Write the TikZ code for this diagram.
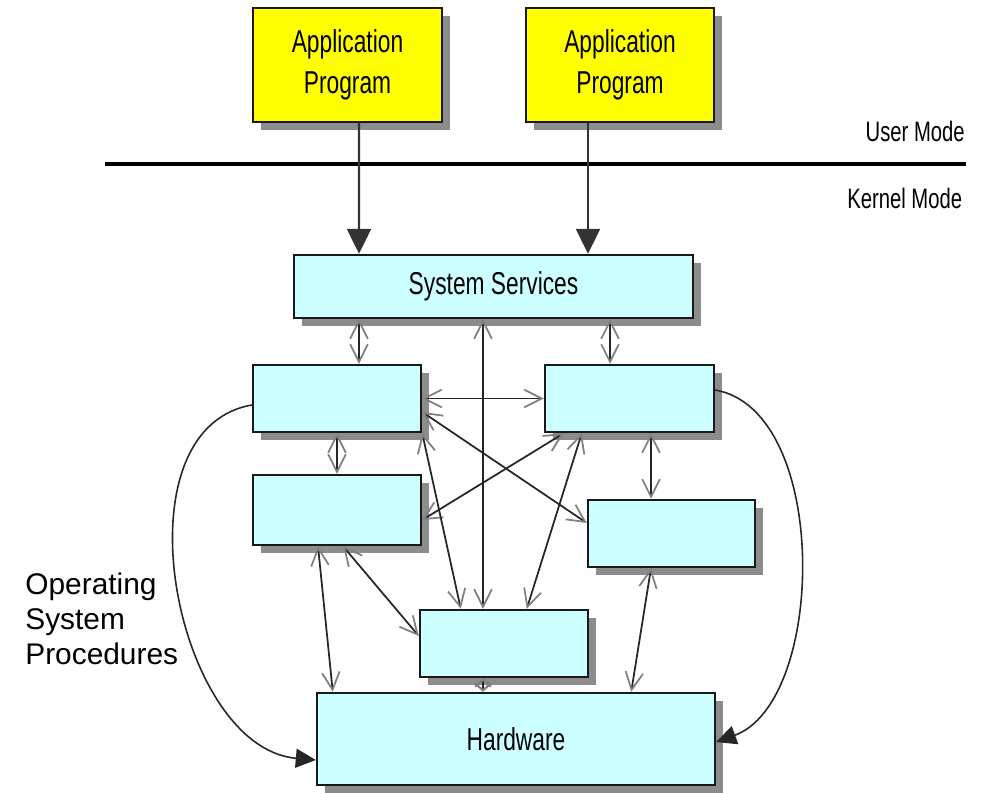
\documentclass[tikz,border=0pt]{standalone}
\usepackage{fontspec}
\usepackage{xcolor}
\usepackage{tikz}
\usetikzlibrary{arrows.meta, shadows, positioning, calc}
\setmainfont{Liberation Sans}
\newfontfamily\stretto[FakeStretch=0.72]{Liberation Sans}
\definecolor{giallo}{HTML}{FFFF00}
\definecolor{ciano}{HTML}{CCFFFF}

\begin{document}
\begin{tikzpicture}[
    scatola/.style={draw=black!90, line width=1.4pt, inner sep=0pt, align=center,
        font=\stretto\fontsize{18}{23}\selectfont,
        drop shadow={shadow xshift=0.16cm, shadow yshift=-0.16cm, fill=black!45, opacity=1}},
    freccia/.style={<->, >={Straight Barb[length=10pt,width=10pt,color=black!50]}, line width=1pt, black!85},
    corta/.style={<->, >={Straight Barb[length=4pt,width=9pt,color=black!50]}, line width=1.2pt, black!85},
    chiamata/.style={-{Triangle[length=0.5cm,width=0.48cm]}, line width=1.4pt, black!80},
    curva/.style={-{Triangle[length=0.4cm,width=0.38cm]}, line width=0.9pt, black!85}
]
\useasboundingbox (0,0) rectangle (19.64,-15.86);

\node[scatola, fill=giallo, minimum width=3.78cm, minimum height=2.28cm] (App1) at (6.95,-1.30) {Application\\Program};
\node[scatola, fill=giallo, minimum width=3.76cm, minimum height=2.28cm] (App2) at (12.40,-1.30) {Application\\Program};

\coordinate (LineaSx) at (2.1,-3.28);
\coordinate (LineaDx) at (19.32,-3.28);
\draw[line width=2.2pt] (LineaSx) -- (LineaDx);
\node[anchor=east, inner sep=0pt, font=\stretto\fontsize{16}{18}\selectfont] (UserMode) at (19.3,-2.62) {User Mode};
\node[anchor=east, inner sep=0pt, font=\stretto\fontsize{16}{18}\selectfont] (KernelMode) at (19.25,-3.96) {Kernel Mode};

\node[scatola, fill=ciano, minimum width=7.98cm, minimum height=1.26cm] (Services) at (9.87,-5.73) {System Services};
\node[scatola, fill=ciano, minimum width=3.36cm, minimum height=1.34cm] (Proc1) at (6.74,-7.97) {};
\node[scatola, fill=ciano, minimum width=3.38cm, minimum height=1.34cm] (Proc2) at (12.59,-7.97) {};
\node[scatola, fill=ciano, minimum width=3.36cm, minimum height=1.40cm] (Proc3) at (6.74,-10.20) {};
\node[scatola, fill=ciano, minimum width=3.34cm, minimum height=1.34cm] (Proc4) at (13.43,-10.67) {};
\node[scatola, fill=ciano, minimum width=3.36cm, minimum height=1.34cm] (Proc5) at (10.08,-12.87) {};
\node[scatola, fill=ciano, minimum width=7.96cm, minimum height=1.84cm] (Hardware) at (10.32,-14.78) {Hardware};

\node[anchor=north west, inner sep=0pt, align=left, font=\fontsize{17}{20}\selectfont] (Procedure) at (0.5,-11.45) {Operating\\System\\Procedures};

\draw[chiamata] ([xshift=0.23cm]App1.south) to ([xshift=-2.69cm]Services.north);
\draw[chiamata] ([xshift=-0.64cm]App2.south) to ([xshift=1.89cm]Services.north);

\draw[freccia] ([xshift=-2.69cm]Services.south) to ([xshift=0.44cm]Proc1.north);
\draw[freccia] ([xshift=-0.21cm]Services.south) to ([xshift=-0.42cm]Proc5.north);
\draw[freccia] ([xshift=2.33cm]Services.south) to ([xshift=-0.39cm]Proc2.north);
\draw[freccia] (Proc1.east) to (Proc2.west);
\draw[freccia] (Proc1.south) to (Proc3.north);
\draw[freccia] ([xshift=0.43cm]Proc2.south) to ([xshift=-0.41cm]Proc4.north);
\draw[freccia] ([yshift=-0.27cm]Proc1.east) to ([yshift=0.21cm]Proc4.west);
\draw[freccia] ([yshift=-0.2cm]Proc3.east) to ([xshift=0.4cm]Proc2.south west);
\draw[freccia] (Proc1.south east) to ([xshift=0.84cm]Proc5.north west);
\draw[freccia] ([xshift=0.76cm]Proc2.south west) to ([xshift=2.16cm]Proc5.north west);
\draw[freccia] ([xshift=0.12cm]Proc3.south) to ([yshift=0.15cm]Proc5.west);
\draw[freccia] ([xshift=-0.38cm]Proc3.south) to ([xshift=0.34cm]Hardware.north west);
\draw[freccia] ([xshift=-0.41cm]Proc4.south) to ([xshift=-1.7cm]Hardware.north east);
\draw[corta] ([xshift=-0.42cm]Proc5.south) to ([xshift=-0.66cm]Hardware.north);

\draw[curva] ([yshift=-0.13cm]Proc1.west) to[out=190, in=175] ([yshift=-0.42cm]Hardware.west);
\draw[curva] ([yshift=0.17cm]Proc2.east) to[out=-10, in=20, looseness=0.85] ([yshift=-0.06cm]Hardware.east);
\end{tikzpicture}
\end{document}
